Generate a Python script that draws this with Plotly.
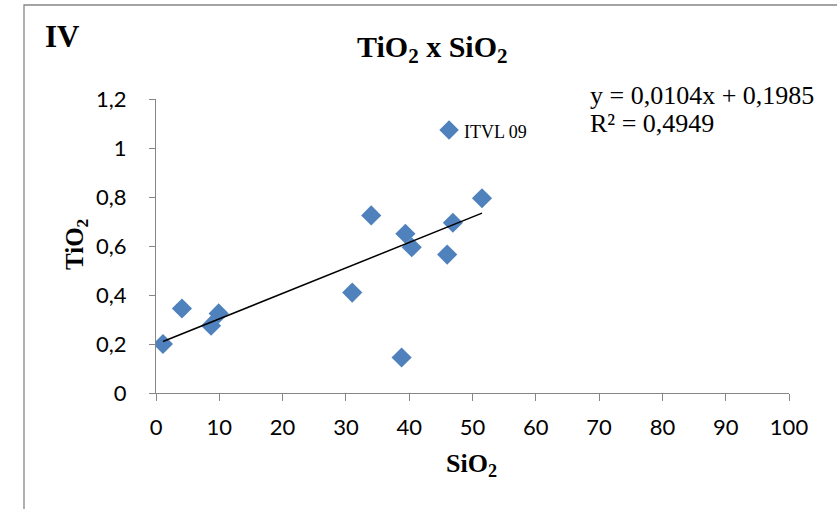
import plotly.graph_objects as go

# Data
sio2 = [1.1, 4.1, 8.7, 9.9, 31.0, 34.0, 38.8, 39.4, 40.4, 46.0, 46.9, 51.5]
tio2 = [0.20, 0.345, 0.275, 0.325, 0.41, 0.725, 0.145, 0.65, 0.595, 0.565, 0.695, 0.795]
outlier_sio2 = [46.3]
outlier_tio2 = [1.073]
outlier_label = ["ITVL 09"]
slope = 0.0104
intercept = 0.1985
eq_line1 = "y = 0,0104x + 0,1985"
eq_line2 = "R² = 0,4949"

x_ticks = [0, 10, 20, 30, 40, 50, 60, 70, 80, 90, 100]
y_ticks = [0, 0.2, 0.4, 0.6, 0.8, 1.0, 1.2]
y_ticktext = ["0", "0,2", "0,4", "0,6", "0,8", "1", "1,2"]

W, H = 837, 509
L, R, T, B = 156, 48, 99, 116
pw, ph = W - L - R, H - T - B

def px_x(p):
    return (p - L) / pw

def px_y(p):
    return (H - B - p) / ph

blue = "#4F81BD"
axis_col = "#868686"
serif = "Liberation Serif"

fig = go.Figure()

trend_x = [min(sio2), max(sio2)]
trend_y = [slope * v + intercept for v in trend_x]

fig.add_trace(go.Scatter(x=sio2, y=tio2, mode="markers",
                         marker=dict(symbol="diamond", size=15.5, color=blue,
                                     line=dict(width=0)),
                         showlegend=False, hoverinfo="skip"))
fig.add_trace(go.Scatter(x=outlier_sio2, y=outlier_tio2, mode="markers",
                         marker=dict(symbol="diamond", size=15, color=blue,
                                     line=dict(width=0)),
                         showlegend=False, hoverinfo="skip"))
fig.add_trace(go.Scatter(x=trend_x, y=trend_y, mode="lines",
                         line=dict(color="black", width=1.5),
                         showlegend=False, hoverinfo="skip"))

fig.update_layout(
    width=W, height=H,
    margin=dict(l=L, r=R, t=T, b=B),
    paper_bgcolor="white", plot_bgcolor="white",
    font=dict(family="Lato", size=22, color="black"),
    xaxis=dict(range=[0, 100], tickvals=x_ticks, showgrid=False, zeroline=False,
               showline=True, linecolor=axis_col, linewidth=1.3,
               ticks="outside", ticklen=7, tickcolor=axis_col,
               tickfont=dict(family="Lato", size=22), ticklabelstandoff=7),
    yaxis=dict(range=[0, 1.2], tickvals=y_ticks, ticktext=y_ticktext,
               showgrid=False, zeroline=False,
               showline=True, linecolor=axis_col, linewidth=1.3,
               ticks="outside", ticklen=6, tickcolor=axis_col,
               tickfont=dict(family="Lato", size=22), ticklabelstandoff=18),
    shapes=[dict(type="rect", xref="paper", yref="paper",
                 x0=px_x(24), x1=px_x(W + 20), y0=px_y(H + 20), y1=px_y(5),
                 line=dict(color=axis_col, width=1.3), layer="below")],
    annotations=[
        dict(text="<b>TiO<sub>2</sub> x SiO<sub>2</sub></b>", xref="paper", yref="paper",
             x=px_x(432), y=px_y(49), showarrow=False, xanchor="center", yanchor="middle",
             font=dict(family=serif, size=30)),
        dict(text="<b>IV</b>", xref="paper", yref="paper",
             x=px_x(43), y=px_y(36), showarrow=False, xanchor="left", yanchor="middle",
             font=dict(family=serif, size=31)),
        dict(text=eq_line1, xref="paper", yref="paper",
             x=px_x(588), y=px_y(95), showarrow=False, xanchor="left", yanchor="middle",
             font=dict(family=serif, size=26)),
        dict(text=eq_line2, xref="paper", yref="paper",
             x=px_x(588), y=px_y(123), showarrow=False, xanchor="left", yanchor="middle",
             font=dict(family=serif, size=26)),
        dict(text=outlier_label[0], x=outlier_sio2[0], y=outlier_tio2[0],
             xref="x", yref="y", showarrow=False, xanchor="left", yanchor="middle",
             xshift=13, yshift=-2, font=dict(family=serif, size=18)),
        dict(text="<b>SiO<sub>2</sub></b>", xref="paper", yref="paper",
             x=px_x(471), y=px_y(465), showarrow=False, xanchor="center", yanchor="middle",
             font=dict(family=serif, size=26)),
        dict(text="<b>TiO<sub>2</sub></b>", xref="paper", yref="paper",
             x=px_x(76), y=px_y(245), showarrow=False, xanchor="center", yanchor="middle",
             textangle=-90, font=dict(family=serif, size=25)),
    ],
)

fig.write_html("out.html")
